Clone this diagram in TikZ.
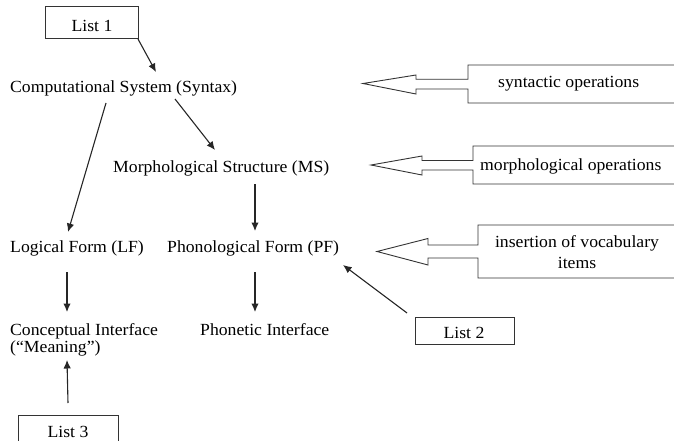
\documentclass[tikz,border=0pt]{standalone}
\usepackage{fontspec}
\setmainfont{Liberation Serif}[FakeStretch=1.04]
\usetikzlibrary{arrows.meta,calc}
\begin{document}
\begin{tikzpicture}[x=1pt,y=-1pt,
  lbl/.style={inner sep=0pt,anchor=base west,font=\fontsize{17}{18}\selectfont},
  clbl/.style={inner sep=0pt,anchor=base,font=\fontsize{17}{18}\selectfont},
  arr/.style={draw=black!85,line width=1.1pt,-{Latex[length=8.5pt,width=7.5pt]}},
  frame/.style={draw=black!80,line width=0.9pt}]
\useasboundingbox (0,0) rectangle (674,441);
% list boxes
\draw[frame] (45,6) rectangle (138,38);
\node[clbl] (l1) at (92,32) {List 1};
\draw[frame] (415,317) rectangle (514,344);
\node[clbl] (l2) at (464,338) {List 2};
\draw[frame] (18,441) -- (18,415) -- (118,415) -- (118,441);
\node[clbl] (l3) at (68,437) {List 3};
% main labels
\node[lbl] (cs) at (10,93) {Computational System (Syntax)};
\node[lbl] (ms) at (113,172) {Morphological Structure (MS)};
\node[lbl] (lf) at (10,252) {Logical Form (LF)};
\node[lbl] (pf) at (167,252) {Phonological Form (PF)};
\node[lbl] (ci) at (10,335) {Conceptual Interface};
\node[lbl] (mn) at (10,352) {(“Meaning”)};
\node[lbl] (pi) at (200,335) {Phonetic Interface};
% operations
\draw[frame] (674,65) -- (468,65) -- (468,79.3) -- (416,79.3) -- (416,75) -- (363,83.5) -- (416,94) -- (416,89) -- (468,89) -- (468,103) -- (674,103);
\node[lbl] (so) at (498,88) {syntactic operations};
\draw[frame] (674,146) -- (473,146) -- (473,160.5) -- (422,160.5) -- (422,156) -- (371,165) -- (422,175) -- (422,170) -- (473,170) -- (473,184) -- (674,184);
\node[lbl] (mo) at (480,170) {morphological operations};
\draw[frame] (674,225) -- (478,225) -- (478,245) -- (428,245) -- (428,238.5) -- (377,251.5) -- (428,265) -- (428,258) -- (478,258) -- (478,278) -- (674,278);
\node[clbl] (iv) at (577,247) {insertion of vocabulary};
\node[clbl] (it) at (577,268) {items};
% connectors
\draw[arr] ([shift={(46,7)}]l1.base) -- ([shift={(146,-21)}]cs.base west);
\draw[arr] ([shift={(96,10)}]cs.base west) -- ([shift={(58,-20)}]lf.base west);
\draw[arr] ([shift={(165,6)}]cs.base west) -- ([shift={(102,-22)}]ms.base west);
\draw[arr] ([shift={(142,12)}]ms.base west) -- ([shift={(88,-21)}]pf.base west);
\draw[arr] ([shift={(57,20)}]lf.base west) -- ([shift={(57,-23)}]ci.base west);
\draw[arr] ([shift={(88,20)}]pf.base west) -- ([shift={(88,-23)}]pf.base west|-pi.base);
\draw[arr] ([shift={(0,-34)}]l3.base) -- ([shift={(57,8)}]mn.base west);
\draw[arr] ([shift={(-57,-25)}]l2.base) -- ([shift={(176,13)}]pf.base west);
\end{tikzpicture}
\end{document}
